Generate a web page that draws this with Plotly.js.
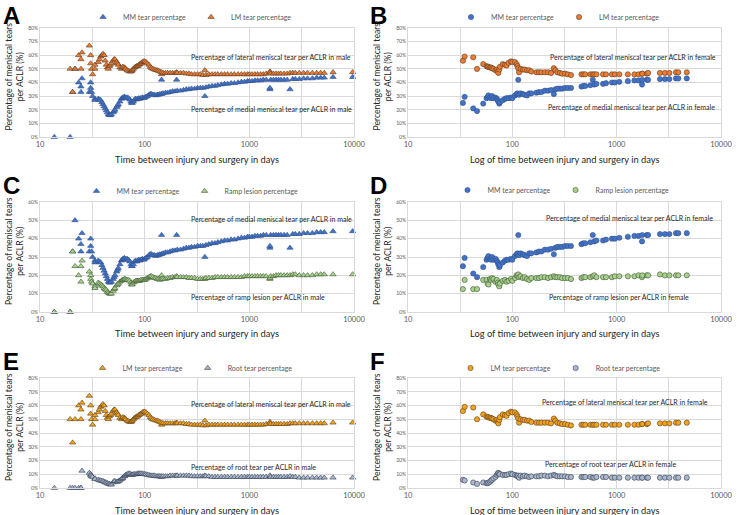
<!DOCTYPE html>
<html><head><meta charset="utf-8">
<script src="https://cdn.plot.ly/plotly-3.0.1.min.js"></script>
<style>html,body{margin:0;padding:0;background:#fff}#chart{width:737px;height:515px}</style>
</head><body><div id="chart"></div>
<script>
// ---------- tick labels ----------
const xTickVals = [10, 31.62, 100, 316.2, 1000, 3162, 10000];
const xTickText = ['10', '', '100', '', '1000', '', '10000'];

// ---------- male data (panels A, C, E) ----------
const maleDays = [13.7, 19.4, 20.5, 21.6, 23.4, 24.6, 24.6, 25.2, 29.6, 30.5, 30.5, 31.1, 31.8, 33.5, 33.5,
  36, 37, 38, 39, 40, 41, 42, 43, 44, 45, 46, 47, 48, 50, 51, 52, 54, 55, 56, 58, 60, 61, 62, 64, 65, 66, 68, 70, 72, 74, 75, 76, 78, 80,
  82, 84, 86, 88, 90, 92, 95, 98, 100, 103, 106, 110, 113, 116, 120, 124, 128, 132, 136, 140, 145, 145, 150,
  158, 166, 175, 185, 195, 202, 205, 220, 235, 250, 265, 280, 300, 320, 340, 360, 376, 385, 410, 440, 470, 500, 540, 580, 620, 670, 720, 780, 840, 900, 960, 1000,
  1060, 1130, 1200, 1280, 1360, 1450, 1574, 1574, 1600, 1700, 1800, 1900, 2000, 2150, 2300, 2448, 2600, 2750, 3000, 3300, 3600, 4000, 4400, 4800, 5200, 6300, 9700];
const maleMM = [0, 0, 33, 50, 40, 33, 37, 43, 33, 40, 36, 33, 30, 28, 27,
  28, 27.5, 27, 25.5, 24, 22.5, 21, 19.5, 18, 16.5, 16, 16, 16.5, 18, 19, 20, 22, 23, 24, 26, 28, 28.5, 29, 29.5, 29, 28.5, 29, 28.5, 27.5, 26, 25, 25, 26, 27.5,
  28, 27.5, 28, 28.5, 28, 28.5, 29, 28.5, 29, 29.5, 30, 31, 31.5, 31.5, 31, 31, 30.5, 31, 31, 31.5, 42, 31.5, 32,
  32.5, 32.5, 33, 33.5, 33.5, 42, 34, 34, 34.5, 35, 35, 35.5, 35.5, 36, 36, 36, 30, 36.5, 37, 37.5, 37.5, 38, 38.5, 39, 39, 39.5, 39.5, 40, 40.5, 40.5, 41, 41,
  41, 41.5, 41.5, 41.5, 42, 42, 35, 36, 42, 42, 42, 42, 42, 42, 42, 35, 42.5, 42.5, 42.5, 43, 43, 43, 43.5, 43.5, 43.5, 44, 44];
const maleLM = [null, 50, 33, 50, 60, 50, 57, 62, 67, 60, 54, 50, 46, 50, 53,
  55, 57, 59, 60, 61, 60, 56, 53, 51, 50, 52, 53, 54, 56, 57, 57, 55, 54, 53, 51, 50, 51, 51.5, 51, 50.5, 50, 49, 48.5, 48, 48, 48.5, 49, 50, 51,
  51.5, 52, 52, 53, 53.5, 54, 55, 55.5, 55.5, 55, 54, 53, 51.5, 50.5, 50, 49.5, 49, 49, 48.5, 48, 46, 47.5, 47,
  47, 47, 47, 47, 47, 47.5, 47, 47, 47, 46.5, 46.5, 46, 46, 46, 46, 45.5, 49, 45.5, 46, 46, 46, 46, 46, 46, 46, 46, 46, 46, 46, 46, 46, 46,
  46, 46, 46, 46, 46, 46.5, 48, 47.5, 46.5, 46.5, 46.5, 46.5, 46.5, 46.5, 46.5, 47, 47, 47, 47, 47, 47, 47, 47, 47, 47, 47.5, 47.5];
const maleRamp = [0, 0, 33, 25, 20, 16.5, 25, 28, 22, 20, 18, 16.5, 15.5, 14, 13,
  16, 15.5, 15, 14.5, 14, 13, 12.5, 12, 11, 10.5, 10, 10, 10, 11.5, 12.5, 13, 14.5, 15, 15.5, 16.5, 17, 17.5, 17.5, 18, 18, 17.5, 17.5, 17.5, 17, 16, 15, 15, 16, 16.5,
  17, 17, 17, 17, 17, 17.5, 17.5, 17.5, 17.5, 18, 18.5, 19, 19.5, 19.5, 19, 18.5, 18.5, 18, 18, 17.5, 20, 18, 18,
  18, 18.5, 18.5, 19, 19, 19.5, 19, 19, 19, 19, 18.5, 18.5, 18.5, 18, 18, 18, 18, 18.5, 18.5, 18.5, 19, 19, 19, 19, 19, 19, 19, 19, 19, 19.5, 19.5, 19.5,
  19.5, 19.5, 19.5, 19.5, 19.5, 19.5, 18, 18.5, 19.5, 19.5, 20, 20, 20, 20, 20, 20, 20.5, 20.5, 20, 20, 20, 20, 20.5, 20.5, 20.5, 20.5, 20.5];
const maleRoot = [0, 0, 0, 0, 0, 0, 0, 12.5, 11, 10, 9, 8.5, 8, 7, 6.5,
  6, 5.5, 5.5, 5, 5, 4.5, 4, 4, 3.5, 3, 3, 2.5, 2.5, 4, 5, 5, 4.5, 4.5, 5, 5.5, 6.5, 7, 7.5, 8.5, 9, 9.5, 10, 10.5, 10.5, 10, 9.5, 9.5, 10, 10,
  10, 10, 10.5, 10.5, 10.5, 10.5, 10.5, 10, 10, 10, 9.5, 9.5, 9, 9, 9, 9, 8.5, 8.5, 8.5, 8.5, 8, 8.5, 8.5,
  8.5, 8.5, 9, 9, 9, 9, 9, 9, 9, 9, 9, 8.5, 8.5, 8.5, 8.5, 8.5, 9, 8.5, 8.5, 8, 8, 8, 8, 8, 8, 8, 8, 8, 8, 8, 8, 8,
  8, 8, 8, 8, 8, 8, 8.5, 9, 8, 8, 8, 8, 8, 8, 8, 8.5, 8, 8, 7.5, 7.5, 7.5, 7.5, 7.5, 7.5, 7.5, 7.5, 7.5];

// ---------- female data (panels B, D, F) ----------
const femaleDays = [33.6, 34.9, 42.2, 45.9, 52.6, 56.6, 58, 59, 61, 62.5,
  64, 66, 69, 71, 72.5, 73.5, 75, 76, 81, 85,
  88, 92, 97, 100, 106, 110, 112, 114, 116, 120,
  126, 131, 138, 145, 152, 170, 180, 190, 205, 220,
  235, 250, 258, 270, 285, 300, 320, 340, 365, 460,
  480, 500, 560, 590, 610, 640, 740, 790, 900, 960,
  1060, 1280, 1480, 1620, 1750, 1760, 1950, 2000, 2600, 2900,
  3200, 3700, 3900, 4700];
const femaleMM = [25, 29.5, 21, 19, 24.5, 28.5, 29.5, 30.5, 29, 28.5,
  30, 28.5, 29, 28, 27, 26, 24.5, 25.5, 27, 28,
  28.5, 28.5, 29, 28.5, 30.5, 31.5, 32, 42, 31, 32,
  31.5, 31, 30.5, 32, 32, 32.5, 33, 33, 34, 34,
  34.5, 31.5, 35, 35.5, 35.5, 35.5, 36, 36, 36, 37,
  37.5, 37.5, 38, 42, 38.5, 39, 39, 39.5, 40, 40,
  40.5, 41, 41.5, 41.5, 38.5, 42, 42, 42, 42.5, 42.5,
  42.5, 43, 43, 43];
const femaleLM = [56, 59, 58.5, 50, 53.5, 52, 51.5, 51.5, 51, 51,
  50.5, 50, 49, 49.5, 48, 47, 49.5, 51.5, 53.5, 53,
  52.5, 54.5, 55.5, 55, 55, 53.5, 52, 50.5, 47.5, 50,
  49.5, 49.5, 49, 49, 48, 47.5, 47.5, 47.5, 47.5, 47.5,
  47, 50.5, 49, 47.5, 47, 46.5, 46.5, 46, 45.5, 46,
  46, 46, 46, 46, 46, 46, 46, 46, 46, 46,
  46, 46, 46, 46, 46.5, 46.5, 46.5, 47, 47, 47,
  47, 47.5, 47.5, 47.5];
const femaleRamp = [12.5, 17.5, 12.5, 12.5, 17.5, 17.5, 15.5, 15, 18, 17.5,
  18.5, 18, 16.5, 17.5, 16, 15, 14, 15.5, 17, 17.5,
  16.5, 17, 18, 17, 18.5, 20, 19.5, 20.5, 19, 19.5,
  18.5, 19, 18, 17.5, 18.5, 18.5, 18.5, 19, 19, 18.5,
  19, 19.5, 19, 19, 19, 18.5, 18.5, 18.5, 18, 18.5,
  19, 19, 19, 19.5, 20, 19, 19, 19, 19, 19.5,
  19.5, 19.5, 19.5, 20, 19, 20, 20, 20, 20.5, 20,
  20, 20, 20, 20];
const femaleRoot = [6, 5.5, 4, 3, 4, 3.5, 3.5, 4, 4.5, 5.5,
  6, 7, 8, 9.5, 10.5, 11, 10.5, 10, 9.5, 9.5,
  9.5, 10, 10.5, 10, 9.5, 9, 8.5, 9, 7.5, 9,
  8.5, 9, 8.5, 8, 8.5, 8.5, 8.5, 9, 9, 8.5,
  9, 9.5, 9, 8.5, 8.5, 8.5, 8.5, 8, 8, 8,
  8, 8, 8, 7.5, 7.5, 8, 8, 8, 7.5, 7.5,
  7.5, 7.5, 7.5, 7.5, 7.5, 7.5, 7.5, 7.5, 7.5, 7.5,
  7.5, 7.5, 7.5, 7.5];

// ---------- text ----------
const seriesNames = {MM: 'MM tear percentage', LM: 'LM tear percentage', Ramp: 'Ramp lesion percentage', Root: 'Root tear percentage'};
const xTitleMale = 'Time between injury and surgery in days';
const xTitleFemale = 'Log of time between injury and surgery in days';
const yTitle = 'Percentage of meniscal tears<br>per ACLR (%)';

// ---------- styling ----------
const W = 737, H = 515;
const FONT = 'Lato, "Open Sans", sans-serif';
const GRID = '#D9D9D9';
const TICKC = '#595959';
const C = {
  MM: {fill: '#4472C4', line: '#2F528F'},
  LM: {fill: '#ED7D31', line: '#5A3A25'},
  Ramp: {fill: '#A9D18E', line: '#3D5530'},
  LMgold: {fill: '#F5A21C', line: '#5A4020'},
  Root: {fill: '#ADB9CA', line: '#2F3D55'}
};
const px = x => x / W;
const py = y => 1 - y / H;

// panel pixel boxes [left, right, top, bottom]
const boxes = [
  [40, 354, 28, 137],   // A
  [408, 721, 28, 137],  // B
  [40, 354, 202, 312],  // C
  [408, 721, 202, 312], // D
  [40, 354, 378, 488],  // E
  [408, 721, 378, 488]  // F
];
const yMax = [80, 80, 60, 60, 80, 80];

const layout = {
  width: W, height: H,
  margin: {l: 0, r: 0, t: 0, b: 0},
  paper_bgcolor: '#fff', plot_bgcolor: '#fff',
  font: {family: FONT, color: TICKC},
  showlegend: true,
  annotations: []
};

boxes.forEach((b, i) => {
  const n = i === 0 ? '' : String(i + 1);
  layout['xaxis' + n] = {
    domain: [px(b[0]), px(b[1])], anchor: 'y' + n, type: 'log', range: [1, 4],
    tickmode: 'array', tickvals: xTickVals, ticktext: xTickText,
    showgrid: true, gridcolor: GRID, gridwidth: 1,
    showline: true, linecolor: GRID, mirror: true, zeroline: false,
    ticks: '', tickfont: {size: 7.5, color: TICKC, family: FONT}, ticklen: 0
  };
  layout['yaxis' + n] = {
    domain: [py(b[3]), py(b[2])], anchor: 'x' + n, range: [0, yMax[i]],
    dtick: 10, ticksuffix: '%', showgrid: true, gridcolor: GRID, gridwidth: 1,
    showline: true, linecolor: GRID, mirror: true, zeroline: false,
    ticks: '', tickfont: {size: 5, color: TICKC, family: FONT}
  };
});

function tr(panel, x, y, key, colorKey, symbol, legendId) {
  const n = panel === 0 ? '' : String(panel + 1);
  const c = C[colorKey];
  return {
    type: 'scatter', mode: 'markers', x: x, y: y, name: seriesNames[key],
    xaxis: 'x' + n, yaxis: 'y' + n, legend: legendId, cliponaxis: false,
    marker: {symbol: symbol, size: symbol === 'circle' ? 5.2 : 5.5, color: c.fill, line: {color: c.line, width: 0.6}},
    hoverinfo: 'x+y'
  };
}

const traces = [
  tr(0, maleDays, maleMM, 'MM', 'MM', 'triangle-up', 'legend'),
  tr(0, maleDays, maleLM, 'LM', 'LM', 'triangle-up', 'legend'),
  tr(1, femaleDays, femaleMM, 'MM', 'MM', 'circle', 'legend2'),
  tr(1, femaleDays, femaleLM, 'LM', 'LM', 'circle', 'legend2'),
  tr(2, maleDays, maleMM, 'MM', 'MM', 'triangle-up', 'legend3'),
  tr(2, maleDays, maleRamp, 'Ramp', 'Ramp', 'triangle-up', 'legend3'),
  tr(3, femaleDays, femaleMM, 'MM', 'MM', 'circle', 'legend4'),
  tr(3, femaleDays, femaleRamp, 'Ramp', 'Ramp', 'circle', 'legend4'),
  tr(4, maleDays, maleLM, 'LM', 'LMgold', 'triangle-up', 'legend5'),
  tr(4, maleDays, maleRoot, 'Root', 'Root', 'triangle-up', 'legend5'),
  tr(5, femaleDays, femaleLM, 'LM', 'LMgold', 'circle', 'legend6'),
  tr(5, femaleDays, femaleRoot, 'Root', 'Root', 'circle', 'legend6')
];

// legends
const legendPos = [[190, 17], [558, 17], [190, 191], [561, 190], [190, 368], [558, 368]];
legendPos.forEach((p, i) => {
  const id = i === 0 ? 'legend' : 'legend' + (i + 1);
  layout[id] = {
    orientation: 'h', x: px(p[0]), y: py(p[1]), xanchor: 'center', yanchor: 'middle',
    font: {size: 7, color: TICKC, family: FONT}, itemwidth: 30, bgcolor: 'rgba(0,0,0,0)',
    tracegroupgap: 0, itemsizing: 'trace'
  };
});

function ann(text, x, y, size, opts) {
  layout.annotations.push(Object.assign({
    text: text, x: px(x), y: py(y), xref: 'paper', yref: 'paper', showarrow: false,
    xanchor: 'left', yanchor: 'middle', font: {size: size, color: '#262626', family: FONT}
  }, opts || {}));
}

// panel letters
[['A', 1, 0], ['B', 368, 0], ['C', 1, 170], ['D', 368, 170], ['E', 1, 346], ['F', 368, 346]].forEach(l => {
  ann('<b>' + l[0] + '</b>', l[1], l[2], 24, {yanchor: 'top', font: {size: 24, color: '#000', family: 'Arial, "Liberation Sans", sans-serif'}});
});

// in-plot labels
ann('Percentage of lateral meniscal tear per ACLR in male', 189, 57, 7);
ann('Percentage of medial meniscal tear per ACLR in male', 189, 109, 7);
ann('Percentage of lateral meniscal tear per ACLR in female', 548, 57, 7);
ann('Percentage of medial meniscal tear per ACLR in female', 546, 107, 7);
ann('Percentage of medial meniscal tear per ACLR in male', 189, 219, 7);
ann('Percentage of ramp lesion per ACLR in male', 189, 297, 7);
ann('Percentage of medial meniscal tear per ACLR in female', 544, 218, 7);
ann('Percentage of ramp lesion per ACLR in female', 547, 297, 7);
ann('Percentage of lateral meniscal tear per ACLR in male', 189, 404, 7);
ann('Percentage of root tear per ACLR in male', 189, 467, 7);
ann('Percentage of lateral meniscal tear per ACLR in female', 540, 402, 7);
ann('Percentage of root tear per ACLR in female', 543, 464, 7);

// axis titles
const xTitleY = [159, 159, 333, 333, 510, 510];
boxes.forEach((b, i) => {
  ann(i % 2 === 0 ? xTitleMale : xTitleFemale, (b[0] + b[1]) / 2, xTitleY[i], 9.3,
      {xanchor: 'center', font: {size: 9.3, color: '#262626', family: FONT}});
  const cx = i % 2 === 0 ? 14 : 382;
  ann(yTitle, cx, (b[2] + b[3]) / 2 - 6, 8.6,
      {xanchor: 'center', textangle: -90, font: {size: 8.6, color: '#262626', family: FONT}});
});

Plotly.newPlot('chart', traces, layout, {displayModeBar: false, staticPlot: true});
</script>
</body></html>
